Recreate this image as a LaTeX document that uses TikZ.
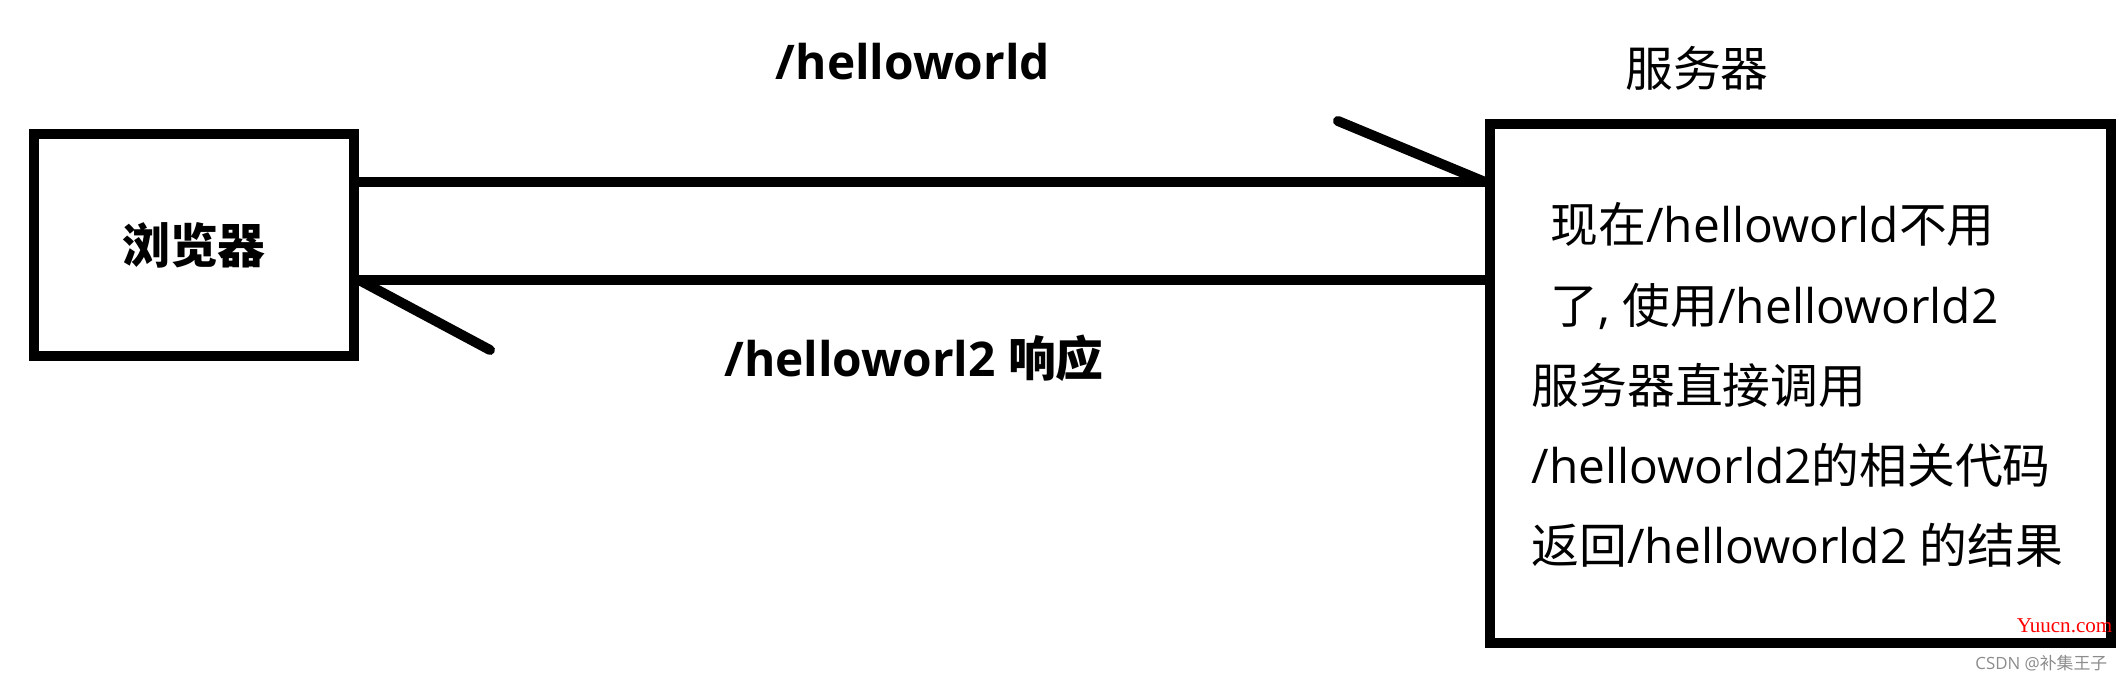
\documentclass[tikz,border=0pt]{standalone}
\usepackage{fontspec}
\setmainfont{Open Sans}
\newfontfamily\cjk{Noto Sans CJK SC}
\newfontfamily\wmfont{Liberation Serif}
\newcommand{\zh}[1]{{\cjk #1}}
\tikzset{
	box/.style={draw, line width=1mm, inner sep=0pt},
	wire/.style={line width=1mm},
	barb/.style={line width=1mm, line cap=round},
	label/.style={font=\fontsize{13.6}{16}\selectfont},
	boldlabel/.style={font=\fontsize{13.6}{16}\selectfont\bfseries},
}

\begin{document}
\begin{tikzpicture}[x=0.1mm, y=-0.1mm]
					\useasboundingbox (0,0) rectangle (2125,681);
					%Nodes
					\node[box, boldlabel, minimum width=32mm, minimum height=22.2mm] (browser) at (194,245) {\zh{浏览器}};
					\node[box, minimum width=62.1mm, minimum height=51.9mm] (server) at (1800.5,383.5) {};
					\node[label] (servername) at (1697,68) {\zh{服务器}};
					\node[boldlabel] (request) at (913,62) {/helloworld};
					\node[boldlabel] (response) at (914,358) {/helloworl2 \zh{响应}};
					\node[anchor=west, inner sep=0pt, align=left, font=\fontsize{13.6}{22.8}\selectfont] (servertext) at (1531,385) {%
						\hspace{0.4em}\zh{现在}/helloworld\zh{不用}\\
						\hspace{0.4em}\zh{了}, \zh{使用}/helloworld2\\
						\zh{服务器直接调用}\\
						/helloworld2\zh{的相关代码}\\
						\zh{返回}/helloworld2 \zh{的结果}};
					\coordinate      (upper) 	at 	(0,182);
					\coordinate      (lower) 	at 	(0,280);
					\coordinate      (reqtip) 	at 	(1338,121);
					\coordinate      (resptip) 	at 	(490,350);

					%Lines
					\draw[wire] (browser.east |- upper) -- (server.west |- upper);
					\draw[wire] (browser.east |- lower) -- (server.west |- lower);
					\draw[barb] (reqtip) -- (server.west |- upper);
					\draw[barb] (browser.east |- lower) -- (resptip);

					%Watermarks
					\node[anchor=base east, inner sep=0pt, text=red, font=\wmfont\fontsize{6}{7}\selectfont] (wmsite) at (2113,632) {Yuucn.com};
					\node[anchor=east, inner sep=0pt, text=black!45, font=\fontsize{4.8}{6}\selectfont] (wmcsdn) at (2108,663) {CSDN @\zh{补集王子}};
				\end{tikzpicture}
\end{document}
